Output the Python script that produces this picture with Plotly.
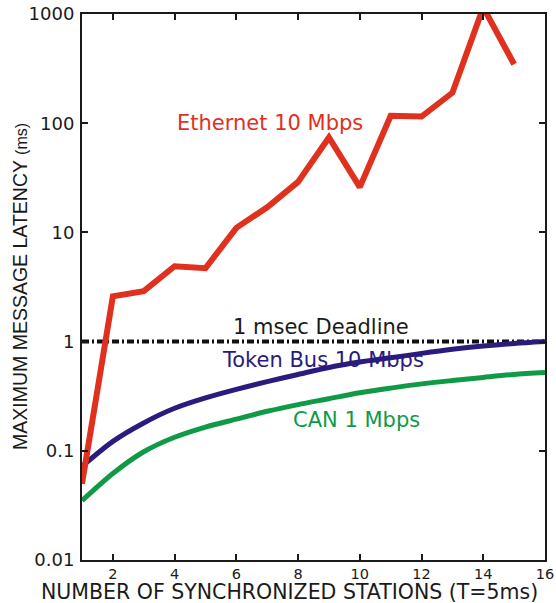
import plotly.graph_objects as go

stations = list(range(1, 17))
ethernet_x = list(range(1, 16))
ethernet = [0.05, 2.6, 2.9, 4.9, 4.7, 11, 17, 29, 74, 26, 117, 115, 190, 1150, 347]
token_bus = [0.072, 0.122, 0.18, 0.245, 0.305, 0.365, 0.43, 0.5, 0.58, 0.65, 0.71, 0.78, 0.85, 0.91, 0.96, 1.0]
can = [0.035, 0.062, 0.098, 0.133, 0.165, 0.195, 0.23, 0.265, 0.30, 0.34, 0.375, 0.41, 0.44, 0.47, 0.50, 0.52]
deadline_x = [1, 16]
deadline = [1, 1]

x_ticks = [2, 4, 6, 8, 10, 12, 14, 16]
y_ticks = [0.01, 0.1, 1, 10, 100, 1000]
y_ticklabels = ["0.01", "0.1", "1", "10", "100", "1000"]

RED = "#e0301e"
NAVY = "#2b1b7e"
GREEN = "#109a48"
FONT = "Liberation Sans, Arial, sans-serif"
WIDE = "DejaVu Sans, Verdana, sans-serif"

fig = go.Figure()
fig.add_trace(go.Scatter(x=deadline_x, y=deadline, mode="lines",
                         line=dict(color="#111111", width=4, dash="7px,3px,2px,3px")))
fig.add_trace(go.Scatter(x=stations, y=can, mode="lines",
                         line=dict(color=GREEN, width=5, shape="spline", smoothing=0.8)))
fig.add_trace(go.Scatter(x=stations, y=token_bus, mode="lines",
                         line=dict(color=NAVY, width=5, shape="spline", smoothing=0.8)))
fig.add_trace(go.Scatter(x=ethernet_x, y=ethernet, mode="lines",
                         line=dict(color=RED, width=6)))

annots = [
    dict(x=7.1, y=2.0, text="Ethernet 10 Mbps", color=RED),
    dict(x=8.74, y=0.137, text="1 msec Deadline", color="#1a1a1a"),
    dict(x=8.8, y=-0.165, text="Token Bus 10 Mbps", color=NAVY),
    dict(x=9.9, y=-0.714, text="CAN 1 Mbps", color=GREEN),
]
for a in annots:
    fig.add_annotation(x=a["x"], y=a["y"], xref="x", yref="y", text=a["text"],
                       showarrow=False, font=dict(family=WIDE, size=21, color=a["color"]))

fig.add_annotation(x=(289 - 82) / 463, y=0, xref="paper", yref="paper", yshift=-32,
                   text="NUMBER OF SYNCHRONIZED STATIONS (T=5ms)", showarrow=False,
                   xanchor="center", yanchor="middle",
                   font=dict(family=WIDE, size=20.5, color="#1a1a1a"))
fig.add_annotation(x=-62 / 463, y=0.5, xref="paper", yref="paper",
                   text="MAXIMUM MESSAGE LATENCY <span style='font-size:16px'>(ms)</span>",
                   showarrow=False, textangle=-90, xanchor="center", yanchor="middle",
                   font=dict(family=FONT, size=19.5, color="#1a1a1a"))

fig.update_layout(
    width=556, height=603,
    margin=dict(l=82, r=11, t=14, b=43),
    paper_bgcolor="white", plot_bgcolor="white",
    showlegend=False,
    font=dict(family=FONT, color="#1a1a1a"),
)
fig.update_xaxes(range=[1, 16], tickvals=x_ticks, ticks="inside", ticklen=6,
                 tickwidth=1.5, tickcolor="#1a1a1a", showline=True, linewidth=2,
                 linecolor="#1a1a1a", mirror="ticks", showgrid=False, zeroline=False,
                 automargin=False, ticklabelstandoff=0, ticklabeloverflow="allow",
                 tickfont=dict(family=WIDE, size=14.5, color="#1a1a1a"))
fig.update_yaxes(type="log", range=[-2, 3], tickvals=y_ticks, ticktext=y_ticklabels,
                 ticks="inside", ticklen=6, tickwidth=1.5, tickcolor="#1a1a1a",
                 showline=True, linewidth=2, linecolor="#1a1a1a", mirror="ticks",
                 showgrid=False, zeroline=False, ticklabelstandoff=2, automargin=False,
                 ticklabeloverflow="allow",
                 tickfont=dict(family=WIDE, size=18, color="#1a1a1a"))

fig.write_html("out.html", config={"displayModeBar": False},
               post_script="document.body.style.margin='0';document.body.style.overflow='hidden';")
